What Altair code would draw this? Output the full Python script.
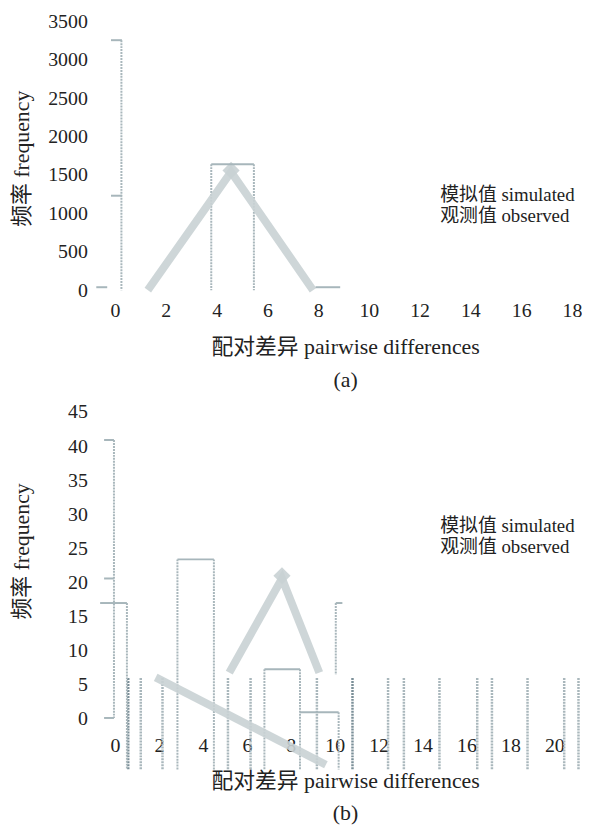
import altair as alt
import pandas as pd

FONT = "'Liberation Serif', 'Noto Sans CJK SC', serif"
SIM = "模拟值 simulated"
OBS = "观测值 observed"
C_SIM = "#c9d1d4"
C_OBS = "#a7b6bb"
C_DASH = "#a9b7bc"
C_DARK = "#7b8f98"
TXT = "#222222"

# ---------------- panel (a) ----------------
a_xticks = [0, 2, 4, 6, 8, 10, 12, 14, 16, 18]
a_yticks = [0, 500, 1000, 1500, 2000, 2500, 3000, 3500]
a_sim_x = [1.29, 4.57, 7.8]
a_sim_y = [0, 1540, 0]
a_sim_piece = [1, 1, 1]
a_peak_x = [4.57]
a_peak_y = [1560]
# observed horizontal segments
a_hx = [-0.74, -0.16, -0.16, 3.79, 7.9]
a_hx2 = [-0.31, 0.27, 0.27, 5.47, 8.87]
a_hy = [38, 3256, 1230, 1641, 38]
# observed vertical segments
a_vx = [0.25, 3.79, 5.47]
a_vy = [3256, 1641, 1641]
a_vy2 = [0, 0, 0]

# ---------------- panel (b) ----------------
b_xticks = [0, 2, 4, 6, 8, 10, 12, 14, 16, 18, 20]
b_yticks = [0, 5, 10, 15, 20, 25, 30, 35, 40, 45]
b_sim_x = [1.85, 9.6, 5.2, 7.6, 9.3]
b_sim_y = [6.1, -6.7, 6.8, 20.6, 6.8]
b_sim_piece = [1, 1, 2, 2, 2]
b_peak_x = [7.6]
b_peak_y = [21.0]
b_hx = [-0.68, -0.5, -0.5, -0.5, 2.84, 6.8, 8.42, 10.05]
b_hx2 = [0.54, -0.05, -0.05, -0.05, 4.5, 8.42, 10.18, 10.35]
b_hy = [17, 40.9, 20.6, 0.15, 23.4, 7.3, 1.0, 17]
b_vx = [-0.05, 0.54, 2.84, 4.5, 6.8, 8.42, 10.18, 10.05]
b_vy = [40.9, 17, 23.4, 23.4, 7.3, 7.3, 1.0, 17]
b_vy2 = [0.15, -7.4, -7.4, -7.4, -7.4, -7.4, -7.4, 6.5]
# extra vertical dashed strokes
b_rx = [1.17, 2.16, 5.14, 6.17, 9.19, 12.43, 13.15, 14.77, 16.49, 17.16, 18.78, 20.45, 21.1]
b_dark_x = [0.6, 10.81]
b_r_top = 6.0
b_r_bot = -7.4


def color_enc(legend_y):
    return alt.Color(
        "series:N",
        scale=alt.Scale(domain=[SIM, OBS], range=[C_SIM, C_OBS]),
        legend=alt.Legend(
            orient="none", legendX=333, legendY=legend_y, title=None,
            symbolOpacity=0, symbolSize=0, symbolStrokeWidth=0,
            labelOffset=0, labelFont=FONT, labelFontSize=19, labelColor=TXT,
            rowPadding=1, labelLimit=400,
        ),
    )


def panel(xdom, ydom, w, h, xticks, yticks, sim, peak, hseg, vseg, rules,
          xtitle, legend_y, title_y, line_h):
    xs = alt.Scale(domain=xdom, nice=False, zero=False)
    ys = alt.Scale(domain=ydom, nice=False, zero=False)
    xaxis = alt.Axis(
        values=xticks, format="d", domain=False, ticks=False, grid=False,
        labelFont=FONT, labelFontSize=20, labelColor=TXT, labelPadding=4,
        labelFlush=False, labelOverlap=False,
        title=xtitle, titleFont=FONT, titleFontSize=22, titleFontWeight="normal",
        titleColor=TXT, titlePadding=16, titleX=256, titleLineHeight=line_h,
    )
    yaxis = alt.Axis(
        values=yticks, format="d", domain=False, ticks=False, grid=False,
        labelFont=FONT, labelFontSize=20, labelColor=TXT, labelPadding=4,
        labelOverlap=False, labelFlush=False,
        title="频率 frequency", titleFont=FONT, titleFontSize=22,
        titleFontWeight="normal", titleColor=TXT, titleX=-70, titleY=title_y,
        titleBaseline="middle", titleAngle=270,
    )
    X = lambda f: alt.X(f, type="quantitative", scale=xs, axis=xaxis)
    Y = lambda f: alt.Y(f, type="quantitative", scale=ys, axis=yaxis)

    layers = []
    for rx, top, bot, col, sw in rules:
        rdf = pd.DataFrame({"x": rx, "y": [top] * len(rx), "y2": [bot] * len(rx)})
        layers.append(
            alt.Chart(rdf).mark_rule(strokeWidth=sw, strokeDash=[2, 1], color=col)
            .encode(x=X("x"), y=Y("y"), y2="y2")
        )
    layers.append(
        alt.Chart(vseg).mark_rule(strokeWidth=2, strokeDash=[2, 1], color=C_DASH)
        .encode(x=X("x"), y=Y("y"), y2="y2")
    )
    layers.append(
        alt.Chart(sim).mark_line(strokeWidth=8, strokeCap="butt", opacity=0.9)
        .encode(x=X("x"), y=Y("y"), detail="piece:N", order="order:Q",
                color=color_enc(legend_y))
    )
    layers.append(
        alt.Chart(peak).mark_point(shape="diamond", filled=True, size=300,
                                   color=C_SIM, opacity=0.9)
        .encode(x=X("x"), y=Y("y"))
    )
    layers.append(
        alt.Chart(hseg).mark_rule(strokeWidth=2)
        .encode(x=X("x"), x2="x2", y=Y("y"), color=color_enc(legend_y))
    )
    return alt.layer(*layers).properties(width=w, height=h)


a_sim = pd.DataFrame({"x": a_sim_x, "y": a_sim_y, "piece": a_sim_piece,
                      "order": list(range(len(a_sim_x))), "series": SIM})
a_peak = pd.DataFrame({"x": a_peak_x, "y": a_peak_y})
a_h = pd.DataFrame({"x": a_hx, "x2": a_hx2, "y": a_hy, "series": OBS})
a_v = pd.DataFrame({"x": a_vx, "y": a_vy, "y2": a_vy2})

b_sim = pd.DataFrame({"x": b_sim_x, "y": b_sim_y, "piece": b_sim_piece,
                      "order": list(range(len(b_sim_x))), "series": SIM})
b_peak = pd.DataFrame({"x": b_peak_x, "y": b_peak_y})
b_h = pd.DataFrame({"x": b_hx, "x2": b_hx2, "y": b_hy, "series": OBS})
b_v = pd.DataFrame({"x": b_vx, "y": b_vy, "y2": b_vy2})

pa = panel([-0.9375, 18.32], [-90, 3500], 493, 278, a_xticks, a_yticks,
           a_sim, a_peak, a_h, a_v, [],
           ["配对差异 pairwise differences", "(a)"], 166, 138, 33)
pb = panel([-1.083, 21.17], [-1.8, 45], 493, 322, b_xticks, b_yticks,
           b_sim, b_peak, b_h, b_v,
           [(b_rx, b_r_top, b_r_bot, C_DASH, 2.5), (b_dark_x, b_r_top, b_r_bot, C_DARK, 2.5)],
           ["配对差异 pairwise differences", "(b)"], 106, 140, 32)

chart = (
    alt.vconcat(pa, pb, spacing=12)
    .resolve_scale(color="independent", x="independent", y="independent")
    .resolve_legend(color="independent")
    .properties(padding={"top": 0, "left": 3, "right": 0, "bottom": 0})
    .configure_view(stroke=None)
)

chart.save("out.html", embed_options={"renderer": "svg", "actions": False})
